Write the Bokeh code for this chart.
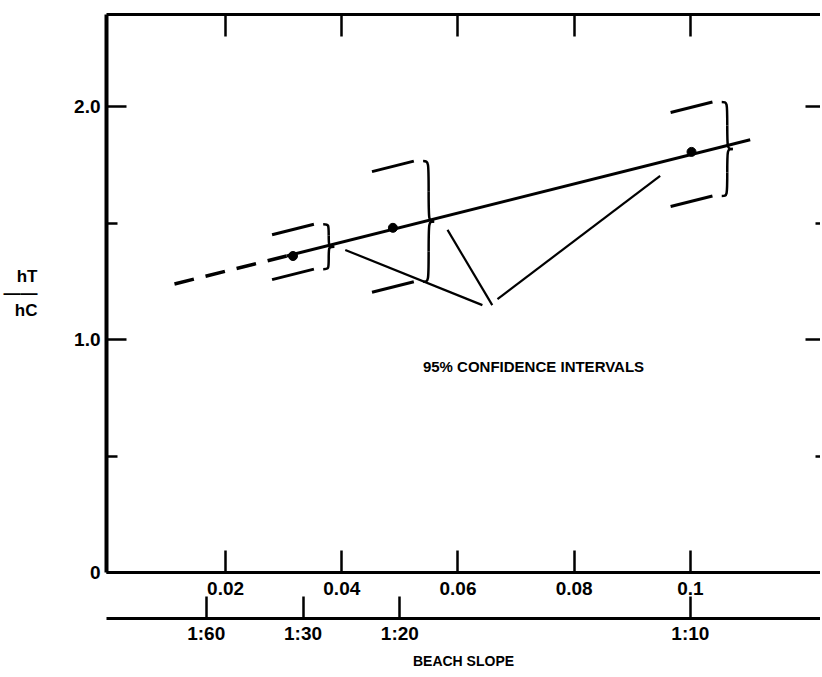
from bokeh.plotting import figure
from bokeh.models import (LinearAxis, FixedTicker, CustomJSTickFormatter, Range1d,
                          Label, ColumnDataSource, Grid)
from bokeh.embed import file_html
from bokeh.resources import INLINE

# ---------------- data ----------------
slope_ticks = [0.02, 0.04, 0.06, 0.08, 0.1]
slope_tick_labels = ["0.02", "0.04", "0.06", "0.08", "0.1"]
ratio_ticks = [1 / 60, 1 / 30, 1 / 20, 1 / 10]
ratio_tick_labels = ["1:60", "1:30", "1:20", "1:10"]
y_ticks = [0.0, 1.0, 2.0]
y_tick_labels = ["0", "1.0", "2.0"]
y_minor_ticks = [0.5, 1.5]

obs_slope = [0.0316, 0.0488, 0.1002]
obs_ratio = [1.359, 1.480, 1.806]
ci_upper = [1.473, 1.744, 1.998]
ci_lower = [1.280, 1.226, 1.594]

fit_dash_x = [0.0112, 0.0305]
fit_dash_y = [1.239, 1.359]
fit_solid_x = [0.0305, 0.1103]
fit_solid_y = [1.359, 1.858]

pointer_x0 = [0.0406, 0.0582, 0.0668]
pointer_y0 = [1.385, 1.471, 1.174]
pointer_x1 = [0.0642, 0.0659, 0.0948]
pointer_y1 = [1.148, 1.148, 1.703]

FONT = "Liberation Sans"

p = figure(width=820, height=671,
           x_range=Range1d(-0.0005, 0.1224), y_range=Range1d(0, 2.396),
           output_backend="svg", toolbar_location=None,
           x_axis_location=None, y_axis_location=None,
           min_border_left=106, min_border_right=0, min_border_top=14, min_border_bottom=0)
p.outline_line_color = None
p.background_fill_color = "white"
p.border_fill_color = "white"
for r in list(p.center):
    if isinstance(r, Grid):
        r.visible = False


def lookup_formatter(ticks, labels):
    return CustomJSTickFormatter(args=dict(t=ticks, l=labels), code="""
        let best = 0, d = Infinity;
        for (let i = 0; i < t.length; i++) {
            const e = Math.abs(t[i] - tick);
            if (e < d) { d = e; best = i; }
        }
        return l[best];
    """)


def style_axis(ax, size="19px"):
    ax.axis_line_color = "black"
    ax.major_tick_line_color = "black"
    ax.minor_tick_line_color = "black"
    ax.major_tick_line_width = 2.5
    ax.minor_tick_line_width = 2.5
    ax.major_tick_out = 0
    ax.minor_tick_out = 0
    ax.major_label_text_font = FONT
    ax.major_label_text_font_style = "bold"
    ax.major_label_text_font_size = size
    ax.major_label_text_color = "black"
    ax.axis_label_text_font = FONT
    ax.axis_label_text_font_style = "bold"
    ax.axis_label_text_color = "black"


# bottom axis 1 (decimal slope)
b1 = LinearAxis(ticker=FixedTicker(ticks=slope_ticks, minor_ticks=[]),
                formatter=lookup_formatter(slope_ticks, slope_tick_labels))
style_axis(b1)
b1.axis_line_width = 3
b1.major_tick_in = 22
b1.minor_tick_in = 0
b1.major_label_standoff = 9
b1.axis_label = " "
b1.axis_label_text_font_size = "10px"
b1.axis_label_standoff = 7
p.add_layout(b1, "below")

# bottom axis 2 (ratio slope)
b2 = LinearAxis(ticker=FixedTicker(ticks=ratio_ticks, minor_ticks=[]),
                formatter=lookup_formatter(ratio_ticks, ratio_tick_labels))
style_axis(b2)
b2.axis_line_width = 3
b2.major_tick_in = 22
b2.minor_tick_in = 0
b2.major_label_standoff = 4
b2.axis_label = "BEACH SLOPE"
b2.axis_label_text_font_size = "14px"
b2.axis_label_standoff = 6
p.add_layout(b2, "below")

# left axis
la = LinearAxis(ticker=FixedTicker(ticks=y_ticks, minor_ticks=y_minor_ticks),
                formatter=lookup_formatter(y_ticks, y_tick_labels))
style_axis(la)
la.axis_line_width = 4
la.major_tick_in = 20
la.minor_tick_in = 11
la.major_label_standoff = 6
p.add_layout(la, "left")

# outer left axis carrying only the (fraction) axis title h_T / h_C
la2 = LinearAxis(ticker=FixedTicker(ticks=[], minor_ticks=[]),
                 formatter=CustomJSTickFormatter(code="return ''"))
style_axis(la2, size="0px")
la2.axis_line_color = None
la2.major_tick_in = 0
la2.minor_tick_in = 0
la2.major_label_standoff = 0
la2.axis_label = "hT\n\u2014\u2014\nhC"
la2.axis_label_orientation = "horizontal"
la2.axis_label_text_font_size = "17px"
la2.axis_label_text_line_height = 0.9
la2.axis_label_standoff = 34
p.add_layout(la2, "left")

# top axis (ticks only)
ta = LinearAxis(ticker=FixedTicker(ticks=slope_ticks, minor_ticks=[]),
                formatter=CustomJSTickFormatter(code="return ''"))
style_axis(ta, size="0px")
ta.axis_line_width = 3
ta.major_tick_in = 22
ta.minor_tick_in = 0
ta.major_label_standoff = 0
p.add_layout(ta, "above")

# right axis (ticks only)
ra = LinearAxis(ticker=FixedTicker(ticks=y_ticks, minor_ticks=y_minor_ticks),
                formatter=CustomJSTickFormatter(code="return ''"))
style_axis(ra, size="0px")
ra.axis_line_color = None
ra.major_tick_in = 15
ra.minor_tick_in = 5
ra.major_label_standoff = 0
p.add_layout(ra, "right")

# fitted line
p.line(fit_dash_x, fit_dash_y, line_color="black", line_width=3.5, line_dash="20 12")
p.line(fit_solid_x, fit_solid_y, line_color="black", line_width=3)
p.scatter(obs_slope, obs_ratio, size=9, color="black")

# confidence interval dashes parallel to the fitted line
s = (fit_solid_y[1] - fit_solid_y[0]) / (fit_solid_x[1] - fit_solid_x[0])
hw = 0.0036
dx0, dy0, dx1, dy1 = [], [], [], []
for xv, up, lo in zip(obs_slope, ci_upper, ci_lower):
    for v in (up, lo):
        dx0.append(xv - hw); dy0.append(v - s * hw)
        dx1.append(xv + hw); dy1.append(v + s * hw)
p.segment(dx0, dy0, dx1, dy1, line_color="black", line_width=3)

# curly braces
off, W = 0.0052, 0.0019
bz = dict(x0=[], y0=[], x1=[], y1=[], cx0=[], cy0=[], cx1=[], cy1=[])


def add_bz(a, b, c0, c1):
    bz["x0"].append(a[0]); bz["y0"].append(a[1])
    bz["x1"].append(b[0]); bz["y1"].append(b[1])
    bz["cx0"].append(c0[0]); bz["cy0"].append(c0[1])
    bz["cx1"].append(c1[0]); bz["cy1"].append(c1[1])


for xv, up, lo in zip(obs_slope, ci_upper, ci_lower):
    xb = xv + off
    top = up + s * hw
    bot = lo + s * hw
    mid = (top + bot) / 2
    H = (top - bot) / 2
    xm = xb + W / 2
    add_bz((xb, top), (xm, mid + H / 2), (xm, top), (xm, top))
    add_bz((xm, mid + H / 2), (xb + W, mid), (xm, mid), (xm, mid))
    add_bz((xb + W, mid), (xm, mid - H / 2), (xm, mid), (xm, mid))
    add_bz((xm, mid - H / 2), (xb, bot), (xm, bot), (xm, bot))

p.bezier(source=ColumnDataSource(bz), x0="x0", y0="y0", x1="x1", y1="y1",
         cx0="cx0", cy0="cy0", cx1="cx1", cy1="cy1", line_color="black", line_width=2.5)

# pointer lines
p.segment(pointer_x0, pointer_y0, pointer_x1, pointer_y1, line_color="black", line_width=2.2)

p.add_layout(Label(x=0.073, y=0.886, text="95% CONFIDENCE INTERVALS",
                   text_align="center", text_baseline="middle",
                   text_font=FONT, text_font_style="bold", text_font_size="15px",
                   text_color="black"))

open("out.html", "w").write(file_html(p, INLINE))
